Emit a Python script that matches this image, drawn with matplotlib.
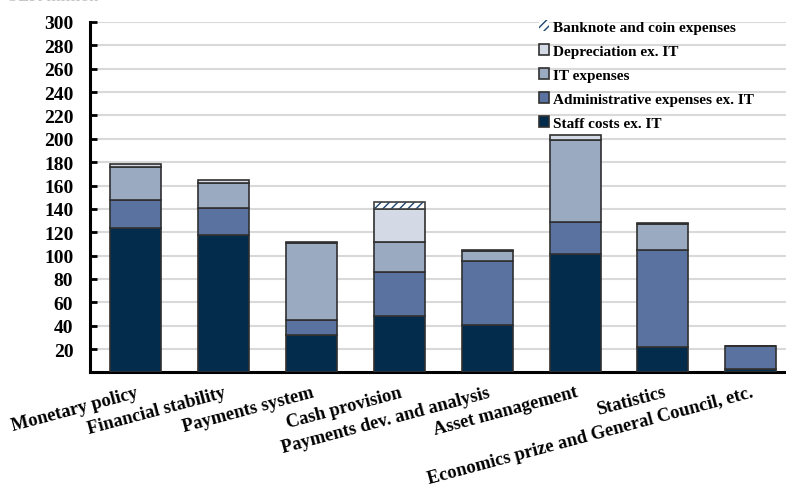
import matplotlib.pyplot as plt
import numpy as np

# Costs per function, SEK million
categories = ["Monetary policy", "Financial stability", "Payments system", "Cash provision",
              "Payments dev. and analysis", "Asset management", "Statistics",
              "Economics prize and General Council, etc."]
staff = [124, 117.5, 32, 48, 40.5, 101, 21.5, 3]
admin = [24, 23, 13, 38, 55, 27.5, 83.5, 19.5]
it_exp = [27.5, 21.5, 66, 26, 8.5, 70.5, 22, 0]
deprec = [3, 2.5, 1, 28, 1, 4, 0.5, 0]
banknote = [0, 0, 0, 6, 0, 0, 0, 0]

series = [
    ("Staff costs ex. IT", staff, "#032b4c", None),
    ("Administrative expenses ex. IT", admin, "#5a72a0", None),
    ("IT expenses", it_exp, "#9aaac0", None),
    ("Depreciation ex. IT", deprec, "#d4dae5", None),
    ("Banknote and coin expenses", banknote, "white", "////"),
]

plt.rcParams['font.family'] = ['Liberation Serif', 'DejaVu Serif']
plt.rcParams['font.weight'] = 'bold'
plt.rcParams['hatch.linewidth'] = 1.0

fig = plt.figure(figsize=(7.86, 4.89), dpi=100)
ax = fig.add_axes([0.1145, 0.2364, 0.8855, 0.7166])

x = np.arange(len(categories))
width = 0.58
bottom = np.zeros(len(categories))
handles = []
for name, vals, col, hatch in series:
    vals = np.array(vals, dtype=float)
    if hatch:
        b = ax.bar(x, vals, width, bottom=bottom, color=col, edgecolor="#1d4670",
                   hatch=hatch, linewidth=0, zorder=3, label=name)
        ax.bar(x[vals > 0], vals[vals > 0], width, bottom=bottom[vals > 0], fill=False,
               edgecolor="#404040", linewidth=1.2, zorder=4)
    else:
        b = ax.bar(x, vals, width, bottom=bottom, color=col, edgecolor="#303030",
                   linewidth=1.2, zorder=3, label=name)
    handles.append(b)
    bottom += vals

ax.set_xlim(-0.52, 7.40)
ax.set_ylim(0, 300)
ax.set_yticks(np.arange(20, 301, 20))
ax.tick_params(axis='y', direction='in', length=5, width=2, labelsize=14, pad=12)
ax.tick_params(axis='x', length=0, labelsize=13.3, pad=8)
ax.set_xticks(x)
ax.set_xticklabels(categories, rotation=15, ha='right', rotation_mode='anchor')
ax.grid(axis='y', color='#d9d9d9', linewidth=1.5, zorder=0)
ax.set_axisbelow(True)
for s in ['top', 'right']:
    ax.spines[s].set_visible(False)
ax.spines['left'].set_linewidth(2.2)
ax.spines['bottom'].set_linewidth(2.2)

ax.legend(handles[::-1], [s[0] for s in series][::-1], loc='upper left',
          bbox_to_anchor=(0.625, 1.045), frameon=False, fontsize=11,
          handlelength=0.7, handleheight=0.7, handletextpad=0.25, labelspacing=0.68)

# unit label, mostly cropped off at the top edge like in the source
fig.text(0.01, 0.9975, "SEK million", color='#c0c0c0', fontsize=13,
         fontweight='normal', va='baseline')

fig.savefig("out.png", dpi=100)
